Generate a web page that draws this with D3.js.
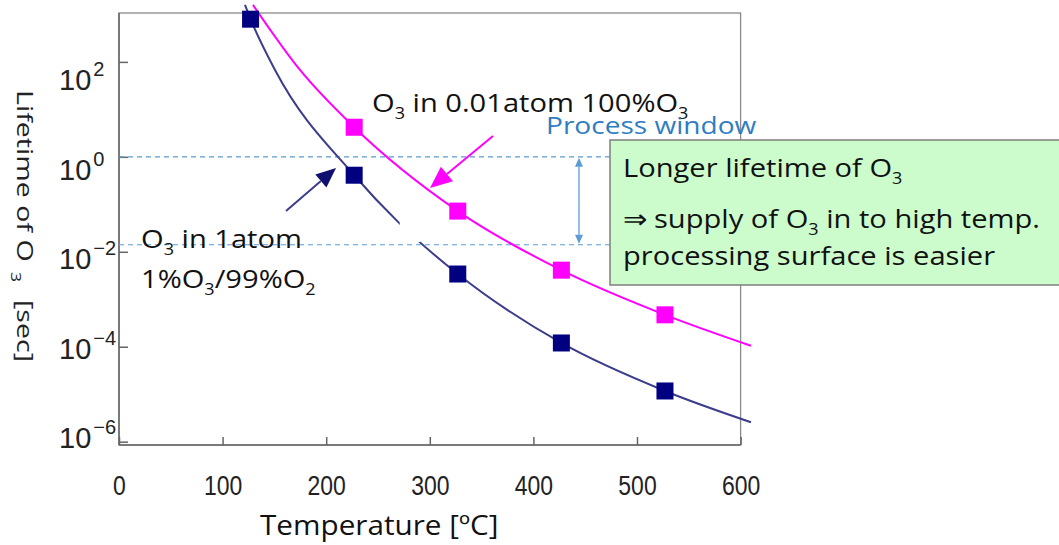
<!DOCTYPE html>
<html><head><meta charset="utf-8">
<script src="https://cdn.jsdelivr.net/npm/d3@7"></script>
<style>
html,body{margin:0;padding:0;background:#fff;}
svg{display:block;}
</style></head><body>
<svg id="chart" width="1059" height="545"></svg>
<script>
// ---------- data ----------
const temps = [127, 227, 327, 427, 527];                       // °C (400..800 K)
const lifetime1atm = [794, 0.41, 3.4e-3, 1.2e-4, 1.17e-5];     // O3 in 1 atm, 1%O3/99%O2
const temps001atm = [227, 327, 427, 527];
const lifetime001atm = [4.2, 0.072, 4.1e-3, 4.7e-4];           // O3 in 0.01 atm, 100%O3
// fitted curves
const curve1atmT = [121.6, 127, 150.6, 227, 270.3, 327, 427, 527, 610];
const curve1atmV = [1585, 794, 67.6, 0.41, 0.0407, 3.4e-3, 1.2e-4, 1.17e-5, 2.57e-6];
const curve001atmT = [129.3, 174.7, 227, 327, 427, 527, 610];
const curve001atmV = [1585, 67.6, 4.2, 0.072, 4.1e-3, 4.7e-4, 1.05e-4];
const curveGapT = [271, 291];
const curveGapV = [0.0437, 0.0161];
const xTicks = [0, 100, 200, 300, 400, 500, 600];
const yTicks = [1e2, 1e0, 1e-2, 1e-4, 1e-6];
const yTickExp = ["2", "0", "\u22122", "\u22124", "\u22126"];
const windowBounds = [1, 0.0141];        // process window (dashed lines)
const windowArrowT = 444;
const arrow1atm = [[161.2, 0.0723], [209.5, 0.582]];     // tail, tip
const arrow001atm = [[361, 2.75], [300.2, 0.22]];

// ---------- scales ----------
const svg = d3.select("#chart");
const x = d3.scaleLinear().domain([0, 600]).range([119, 740.6]);
const y = d3.scaleLog().domain([Math.pow(10, -6.07), Math.pow(10, 3.03)]).range([445, 13]);
const yLab = d3.scaleLog().domain([1e-6, 1e2]).range([448, 90]);

const axisCol = "#666";
const navy = "#000080", navyLine = "#3c3c8c", mag = "#ff00ff", blue = "#5b9bd5";
const annFont = "'Open Sans', 'Noto Sans', sans-serif";

// ---------- frame & axes ----------
const [x0, x1] = x.range();
const [yb, yt] = y.range();
svg.append("rect").attr("x", x0).attr("y", yt).attr("width", x1 - x0).attr("height", yb - yt)
  .attr("fill", "none").attr("stroke", "#8a8a8a").attr("stroke-width", 1.3);
svg.append("line").attr("x1", x0).attr("x2", x0).attr("y1", yt).attr("y2", yb)
  .attr("stroke", axisCol).attr("stroke-width", 1.5);
svg.append("line").attr("x1", x0).attr("x2", x1).attr("y1", yb).attr("y2", yb)
  .attr("stroke", axisCol).attr("stroke-width", 1.5);

const gy = svg.append("g").attr("transform", `translate(${x0},0)`)
  .call(d3.axisRight(y).tickValues(yTicks).tickSize(9).tickFormat(""));
gy.select(".domain").remove();
gy.selectAll("line").attr("stroke", axisCol).attr("stroke-width", 1.5);

const gx = svg.append("g").attr("transform", `translate(0,${yb})`)
  .call(d3.axisTop(x).tickValues(xTicks).tickSize(8).tickFormat(""));
gx.select(".domain").remove();
gx.selectAll("line").attr("stroke", axisCol).attr("stroke-width", 1.5);

const gxl = svg.append("g").attr("transform", `translate(0,${yb})`)
  .call(d3.axisBottom(x).tickValues(xTicks).tickSize(0).tickPadding(30).tickFormat(d3.format("d")));
gxl.select(".domain").remove();
gxl.selectAll("text").attr("font-family", "'Liberation Sans', Arial, sans-serif")
  .attr("font-size", 28).attr("fill", "#222").attr("transform", "scale(0.82,1)");

// y tick labels 10^n
yTicks.forEach((v, i) => {
  const t = svg.append("text").attr("x", 59).attr("y", yLab(v))
    .attr("font-family", "'Liberation Sans', Arial, sans-serif").attr("font-size", 29).attr("fill", "#222");
  t.append("tspan").text("10");
  t.append("tspan").attr("dy", -14).attr("font-size", 20).attr("dx", 2).text(yTickExp[i]);
});

// ---------- helper: rich text with subscripts ----------
// parts: string, or [text, isSub, dx]
function rich(xp, yp, parts, fs, opts = {}) {
  const g = svg.append("g")
    .attr("transform", `translate(${xp},${yp}) ${opts.rotate ? "rotate(" + opts.rotate + ")" : ""} scale(${opts.sx || 1},1)`);
  const t = g.append("text").attr("font-family", opts.font || annFont).attr("font-size", fs)
    .attr("fill", opts.fill || "#111");
  let cur = 0;
  parts.forEach(p => {
    const arr = Array.isArray(p);
    const s = arr ? p[0] : p;
    const isSub = arr ? (p[1] !== false) : false;
    const shift = isSub ? fs * 0.28 : 0;
    const ts = t.append("tspan").attr("font-size", isSub ? fs * 0.62 : fs).text(s);
    if (shift !== cur) ts.attr("dy", shift - cur);
    if (arr && p[2]) ts.attr("dx", p[2]);
    cur = shift;
  });
  return t;
}

// ---------- process window dashed lines ----------
windowBounds.forEach(v => {
  svg.append("line").attr("x1", x0).attr("x2", 610).attr("y1", y(v)).attr("y2", y(v))
    .attr("stroke", blue).attr("stroke-width", 1.1).attr("stroke-dasharray", "5,4");
});

// ---------- curves ----------
const line = d3.line().x(d => x(d[0])).y(d => y(d[1])).curve(d3.curveMonotoneX);
svg.append("path").datum(d3.zip(curve1atmT, curve1atmV)).attr("d", line)
  .attr("fill", "none").attr("stroke", navyLine).attr("stroke-width", 2);
svg.append("path").datum(d3.zip(curve001atmT, curve001atmV)).attr("d", line)
  .attr("fill", "none").attr("stroke", mag).attr("stroke-width", 2);
// break in the 1 atm curve
svg.append("rect").attr("x", x(curveGapT[0])).attr("y", y(curveGapV[0]))
  .attr("width", x(curveGapT[1]) - x(curveGapT[0])).attr("height", y(curveGapV[1]) - y(curveGapV[0]))
  .attr("fill", "#fff");

// ---------- markers ----------
const sq = 17;
svg.selectAll(".sq1").data(d3.zip(temps, lifetime1atm)).join("rect")
  .attr("x", d => x(d[0]) - sq / 2).attr("y", d => y(d[1]) - sq / 2)
  .attr("width", sq).attr("height", sq).attr("fill", navy);
svg.selectAll(".sq2").data(d3.zip(temps001atm, lifetime001atm)).join("rect")
  .attr("x", d => x(d[0]) - sq / 2).attr("y", d => y(d[1]) - sq / 2)
  .attr("width", sq).attr("height", sq).attr("fill", mag);

// ---------- arrows ----------
function arrow(p0, p1, col, w, hl, hw, headCol) {
  const ang = Math.atan2(p1[1] - p0[1], p1[0] - p0[0]);
  const bx = p1[0] - hl * Math.cos(ang), by = p1[1] - hl * Math.sin(ang);
  svg.append("line").attr("x1", p0[0]).attr("y1", p0[1]).attr("x2", bx).attr("y2", by)
    .attr("stroke", col).attr("stroke-width", w);
  const nx = -Math.sin(ang) * hw / 2, ny = Math.cos(ang) * hw / 2;
  svg.append("path").attr("d", `M${p1[0]},${p1[1]}L${bx + nx},${by + ny}L${bx - nx},${by - ny}Z`)
    .attr("fill", headCol || col);
}
const P = d => [x(d[0]), y(d[1])];
arrow(P(arrow1atm[0]), P(arrow1atm[1]), navyLine, 2, 20, 17, "#101070");
arrow(P(arrow001atm[0]), P(arrow001atm[1]), mag, 2, 22, 19, mag);
// process window double arrow
const wx = x(windowArrowT);
arrow([wx, (y(windowBounds[0]) + y(windowBounds[1])) / 2], [wx, y(windowBounds[0]) + 1], blue, 1.3, 9, 8);
arrow([wx, (y(windowBounds[0]) + y(windowBounds[1])) / 2], [wx, y(windowBounds[1]) - 1], blue, 1.3, 9, 8);

// ---------- annotation texts ----------
rich(372, 112, ["O", ["3"], " in 0.01atom 100%O", ["3"]], 26, { sx: 1.12 });
rich(546, 134, ["Process window"], 24, { sx: 1.17, fill: "#2e7dc3" });
rich(141, 248, ["O", ["3"], " in 1atom"], 26, { sx: 1.12 });
rich(141, 288, ["1%O", ["3"], "/99%O", ["2"]], 26, { sx: 1.12 });

// green box
svg.append("rect").attr("x", 610).attr("y", 140).attr("width", 470).attr("height", 145)
  .attr("fill", "#ccfccc").attr("stroke", "#7f7f7f").attr("stroke-width", 1.5);
rich(623, 177, ["Longer lifetime of O", ["3"]], 26, { sx: 1.12 });
rich(623, 228, [["\u21d2", false], ["supply of O", false, 6], ["3"], " in to high temp."], 26, { sx: 1.12 });
rich(623, 265, ["processing surface is easier"], 26, { sx: 1.12 });

// axis titles
rich(260, 535, ["Temperature [\u00baC]"], 28, { sx: 1.06 });
rich(17, 90, ["Lifetime of O", ["3", true, 8], [" [sec]", false, 8]], 22, { sx: 1.3, rotate: 90, fill: "#222" });
</script>
</body></html>
